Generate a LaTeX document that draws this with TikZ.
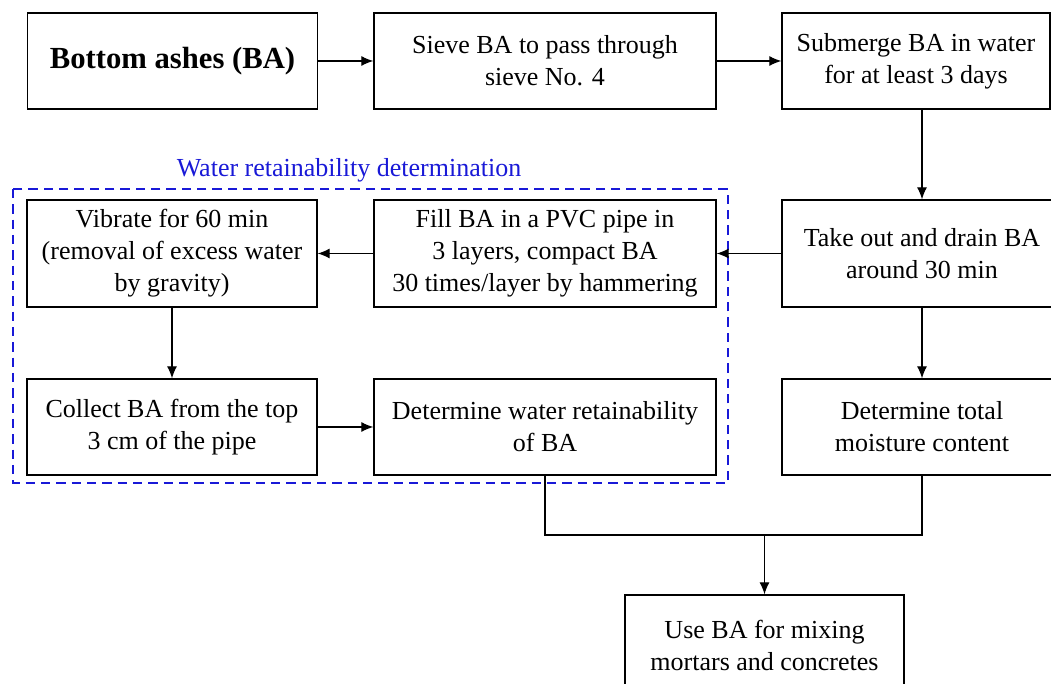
\documentclass[tikz,border=0pt]{standalone}
\usepackage{fontspec}
\setmainfont{Liberation Serif}
\usetikzlibrary{arrows.meta}
\definecolor{grpblue}{RGB}{25,25,215}
\begin{document}
\begin{tikzpicture}
[
    x=0.75pt, y=-0.75pt,
    step box/.style={draw, line width=1pt, align=center, inner sep=0pt,
        font=\fontsize{19.5}{24}\selectfont},
    arr/.style={-{Latex[length=9pt,width=7.5pt]}, line width=0.9pt},
    link/.style={line width=0.9pt}
]
    \useasboundingbox (0,0) rectangle (1051,684);
    \clip (0,0) rectangle (1051,684);

    % top row
    \node [step box, minimum width=217.5pt, minimum height=72pt,
        font=\fontsize{23}{28}\selectfont\bfseries] (ashes) at (172.5,61) {Bottom ashes (BA)};
    \node [step box, minimum width=256.5pt, minimum height=72pt] (sieve) at (545,61)
        {Sieve BA to pass through\\sieve No. 4};
    \node [step box, minimum width=201pt, minimum height=72pt] (submerge) at (916,61)
        {Submerge BA in water\\for at least 3 days};

    % middle row
    \node [step box, minimum width=210pt, minimum height=80.25pt] (drain) at (922,253.5)
        {Take out and drain BA\\around 30 min};
    \node [step box, minimum width=256.5pt, minimum height=80.25pt] (fill) at (545,253.5)
        {Fill BA in a PVC pipe in\\3 layers, compact BA\\30 times/layer by hammering};
    \node [step box, minimum width=217.5pt, minimum height=80.25pt] (vibrate) at (172,253.5)
        {Vibrate for 60 min\\(removal of excess water\\by gravity)};

    % lower row
    \node [step box, minimum width=217.5pt, minimum height=72pt] (collect) at (172,427)
        {Collect BA from the top\\3 cm of the pipe};
    \node [step box, minimum width=256.5pt, minimum height=72pt] (retain) at (545,427)
        {Determine water retainability\\of BA};
    \node [step box, minimum width=210pt, minimum height=72pt] (moisture) at (922,427)
        {Determine total\\moisture content};

    % final step
    \node [step box, minimum width=209.25pt, minimum height=75pt] (use) at (764.5,645)
        {Use BA for mixing\\mortars and concretes};

    % test group
    \draw [grpblue, line width=1.8pt, dash pattern=on 7pt off 4.5pt]
        (13,189) rectangle (728,483);
    \node [grpblue, font=\fontsize{19.5}{24}\selectfont] (grouplabel) at (349,170)
        {Water retainability determination};

    \draw [arr] (ashes) -- (sieve);
    \draw [arr] (sieve) -- (submerge);
    \draw [arr] (submerge.south -| drain.north) -- (drain.north);
    \draw [arr] (drain) -- (fill);
    \draw [arr] (fill) -- (vibrate);
    \draw [arr] (vibrate) -- (collect);
    \draw [arr] (collect) -- (retain);
    \draw [arr] (drain) -- (moisture);

    \coordinate (join) at (764.5,535);
    \draw [link] (retain.south) |- (join) -| (moisture.south);
    \draw [arr] (join) -- (use);
\end{tikzpicture}
\end{document}
